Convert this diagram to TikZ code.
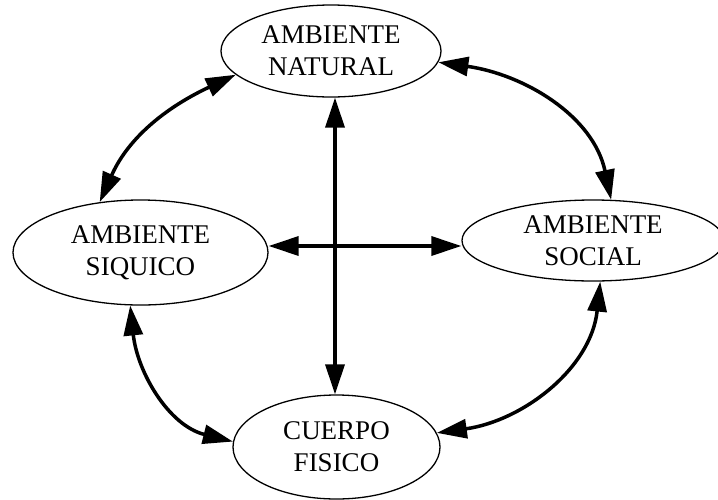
\documentclass[tikz,border=0pt]{standalone}
\usepackage{fontspec}
\setmainfont{Liberation Serif}
\usetikzlibrary{shapes.geometric,arrows.meta}
\begin{document}
\begin{tikzpicture}[x=1pt,y=1pt,
  oval/.style={ellipse,draw,line width=1.3pt,inner sep=0pt,align=center,
    font=\fontsize{27}{32}\selectfont},
  link/.style={line width=3.5pt,{Triangle[length=30pt,width=19pt]}-{Triangle[length=30pt,width=19pt]}}]
\useasboundingbox (0,0) rectangle (718,-499);
\node[oval,minimum width=220pt,minimum height=92pt] (nat) at (331,-51) {AMBIENTE\\NATURAL};
\node[oval,minimum width=255pt,minimum height=105pt] (sq) at (140.5,-252.5) {AMBIENTE\\SIQUICO};
\node[oval,minimum width=262pt,minimum height=81pt] (soc) at (593,-240.5) {AMBIENTE\\SOCIAL};
\node[oval,minimum width=207pt,minimum height=104pt] (cue) at (336.5,-447) {CUERPO\\FISICO};
\coordinate (c) at (335,-246);
\draw[link] (nat.south -| c) -- (cue.north -| c);
\draw[link] (sq.east |- c) -- (soc.west |- c);
\draw[link] (sq.129.6) to[out=66,in=205] (nat.194.8);
\draw[link] (nat.-6.2) to[out=-8,in=102] (soc.66);
\draw[link] (sq.259) to[out=-84,in=166] (cue.177);
\draw[link] (soc.280.6) to[out=-96,in=8] (cue.8.7);
\end{tikzpicture}
\end{document}
